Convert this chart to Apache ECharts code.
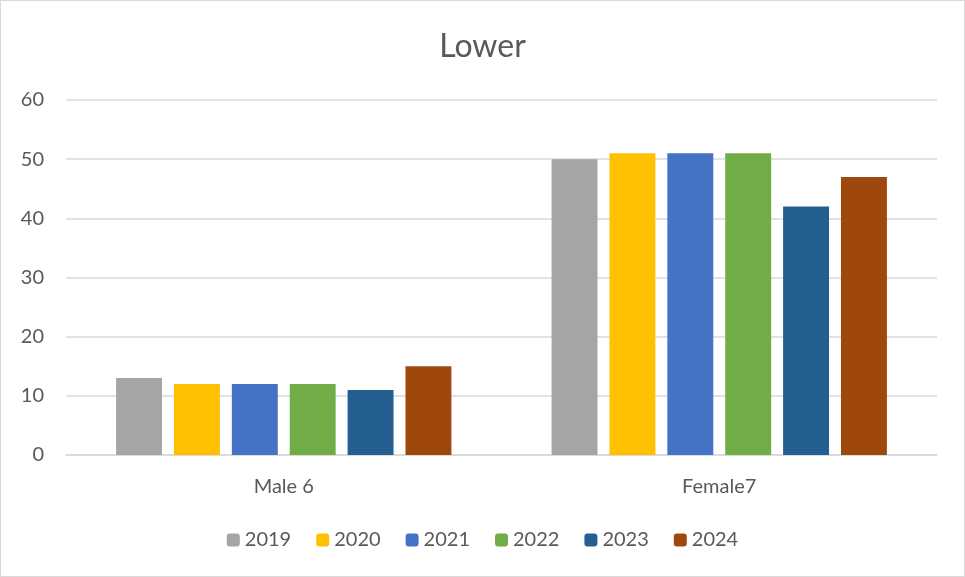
<!DOCTYPE html>
<html>
<head>
<meta charset="utf-8">
<script src="https://cdn.jsdelivr.net/npm/echarts@6/dist/echarts.min.js"></script>
<style>
html,body{margin:0;padding:0;background:#fff;}
#c{width:963px;height:575px;border:1px solid #d9d9d9;}
</style>
</head>
<body>
<div id="c"></div>
<script>
const categories = ["Male 6", "Female7"];
const years = ["2019", "2020", "2021", "2022", "2023", "2024"];
const v2019 = [13, 50];
const v2020 = [12, 51];
const v2021 = [12, 51];
const v2022 = [12, 51];
const v2023 = [11, 42];
const v2024 = [15, 47];
const seriesValues = [v2019, v2020, v2021, v2022, v2023, v2024];
const colors = ["#a5a5a5", "#ffc000", "#4472c4", "#70ad47", "#255e91", "#9e480e"];

const chart = echarts.init(document.getElementById('c'));
const font = 'Lato, "Open Sans", sans-serif';
chart.setOption({
  animation: false,
  title: {
    text: "Lower", left: 'center', top: 25,
    textStyle: { fontFamily: font, fontSize: 32, fontWeight: 'normal', color: '#595959' }
  },
  legend: {
    bottom: 21, left: 'center', itemWidth: 13, itemHeight: 13, itemGap: 25,
    textStyle: { fontFamily: font, fontSize: 20, color: '#595959' },
    data: years
  },
  grid: { left: 65, right: 27, top: 99, bottom: 121 },
  xAxis: {
    type: 'category', data: categories,
    axisLine: { lineStyle: { color: '#d9d9d9', width: 1.5 } },
    axisTick: { show: false },
    axisLabel: { fontFamily: font, fontSize: 20, color: '#595959', margin: 22 }
  },
  yAxis: {
    type: 'value', min: 0, max: 60, interval: 10,
    axisLine: { show: false }, axisTick: { show: false },
    splitLine: { lineStyle: { color: '#d9d9d9', width: 1.5 } },
    axisLabel: { fontFamily: font, fontSize: 20, color: '#595959', margin: 22 }
  },
  series: years.map((y, i) => ({
    name: y, type: 'bar', data: seriesValues[i],
    itemStyle: { color: colors[i] },
    barGap: '26%', barCategoryGap: '23%'
  }))
});
</script>
</body>
</html>
